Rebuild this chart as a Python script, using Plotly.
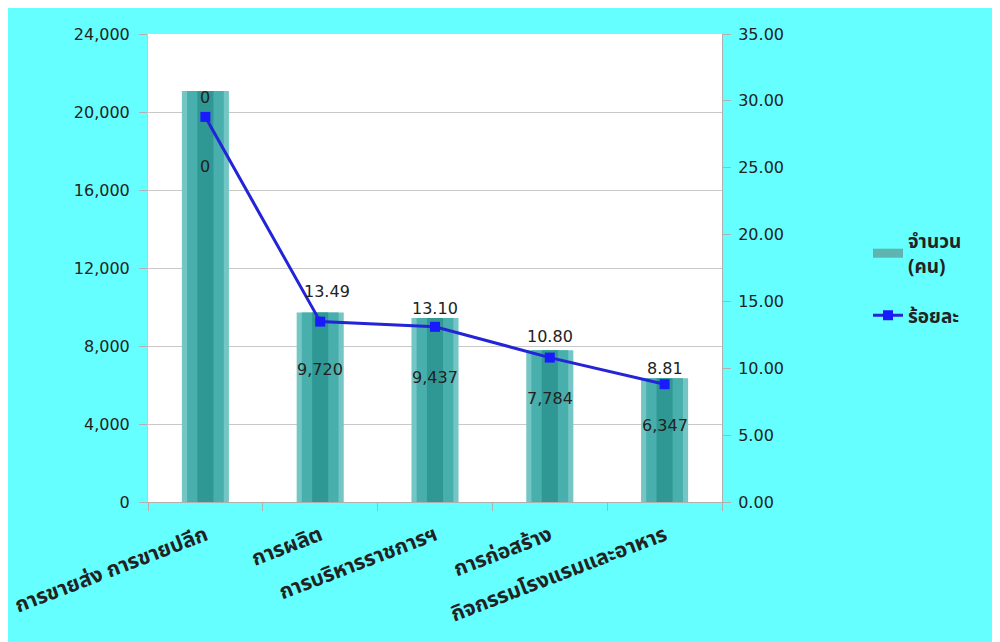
import plotly.graph_objects as go

categories = ["การขายส่ง การขายปลีก", "การผลิต", "การบริหารราชการฯ", "การก่อสร้าง", "กิจกรรมโรงแรมและอาหาร"]
counts = [21080, 9720, 9437, 7784, 6347]
percents = [28.80, 13.49, 13.10, 10.80, 8.81]
bar_labels = ["0"] + [f"{v:,}" for v in counts[1:]]
line_labels = ["0"] + [f"{v:.2f}" for v in percents[1:]]

# label offsets (style)
bar_label_shift = [-76, -57, -60, -48, -47]
line_label_shift = [19, 30, 18, 21, 16]
line_label_xshift = [0, 7, 0, 0, 0]

num_font = dict(family="DejaVu Sans, Verdana, sans-serif", size=16, color="#222222")
thai_family = "Tahoma, 'Noto Sans Thai', 'Noto Sans', sans-serif"

fig = go.Figure()
# layered bars to mimic gradient texture
fig.add_trace(go.Bar(x=categories, y=counts, width=0.41, marker=dict(color="#74c6c4", line=dict(width=0)),
                     showlegend=False, yaxis="y"))
fig.add_trace(go.Bar(x=categories, y=counts, width=0.32, marker=dict(color="#48afac", line=dict(width=0)),
                     showlegend=False, hoverinfo="skip", yaxis="y"))
fig.add_trace(go.Bar(x=categories, y=counts, width=0.14, marker=dict(color="#2f9894", line=dict(width=0)),
                     showlegend=False, hoverinfo="skip", yaxis="y"))
# legend swatch for the bars (wide rectangle like the reference)
fig.add_trace(go.Scatter(x=[None], y=[None], mode="lines", name="จำนวน<br>(คน)", legendgroup="a",
                         line=dict(color="#5fb4b0", width=9), yaxis="y"))
fig.add_trace(go.Scatter(x=categories, y=percents, mode="lines+markers", name="ร้อยละ", yaxis="y2",
                         legendgroup="b",
                         line=dict(color="#2323d8", width=3),
                         marker=dict(symbol="square", size=10, color="#1a1aff")))

annotations = []
for c, v, t, s in zip(categories, counts, bar_labels, bar_label_shift):
    annotations.append(dict(x=c, y=v, xref="x", yref="y", text=t, showarrow=False,
                            yanchor="middle", yshift=s, font=num_font))
for c, v, t, s, xs in zip(categories, percents, line_labels, line_label_shift, line_label_xshift):
    annotations.append(dict(x=c, y=v, xref="x", yref="y2", text=t, showarrow=False,
                            yanchor="middle", yshift=s, xshift=xs, font=num_font))

L, T, PW, PH = 140, 26, 574, 468
W, H = 1000, 642
shapes = [
    dict(type="rect", xref="paper", yref="paper", x0=-L / PW, x1=(W - L) / PW, y0=-(H - T - PH) / PH, y1=(PH + T) / PH,
         fillcolor="#66ffff", line=dict(width=0), layer="below"),
    dict(type="rect", xref="paper", yref="paper", x0=0, x1=1, y0=0, y1=1,
         fillcolor="#ffffff", line=dict(width=0), layer="below"),
]

fig.update_layout(
    width=W, height=H,
    margin=dict(l=L, r=W - L - PW, t=T, b=H - T - PH, autoexpand=False),
    paper_bgcolor="#66ffff", plot_bgcolor="#ffffff",
    barmode="overlay",
    font=num_font,
    annotations=annotations,
    shapes=shapes,
    xaxis=dict(type="category", tickangle=-21, automargin=False,
               tickfont=dict(family=thai_family, size=21, color="#222222", weight="bold"),
               showline=True, linecolor="#b0b0b0", linewidth=1, ticks="outside", tickson="boundaries",
               ticklen=8, tickcolor="#b0b0b0", showgrid=False, ticklabelstandoff=12),
    yaxis=dict(range=[0, 24000], dtick=4000, tickformat=",", showgrid=True, gridcolor="#c8c8c8", gridwidth=1,
               showline=True, linecolor="#c8c8c8", ticks="outside", ticklen=8, tickcolor="#b0b0b0",
               tickfont=num_font, zeroline=False, ticklabelstandoff=6, automargin=False),
    yaxis2=dict(range=[0, 35], dtick=5, tickformat=".2f", overlaying="y", side="right", showgrid=False,
                showline=True, linecolor="#b0b0b0", ticks="outside", ticklen=8, tickcolor="#b0b0b0",
                tickfont=num_font, zeroline=False, ticklabelstandoff=4, automargin=False),
    legend=dict(x=(868 - 8 - L) / PW, y=(PH + T - 222 + 8) / PH, xanchor="left", yanchor="top",
                bgcolor="rgba(0,0,0,0)",
                font=dict(family=thai_family, size=19, color="#222222", weight="bold"),
                tracegroupgap=22, traceorder="grouped"),
    showlegend=True,
)

fig.write_html("out.html")
